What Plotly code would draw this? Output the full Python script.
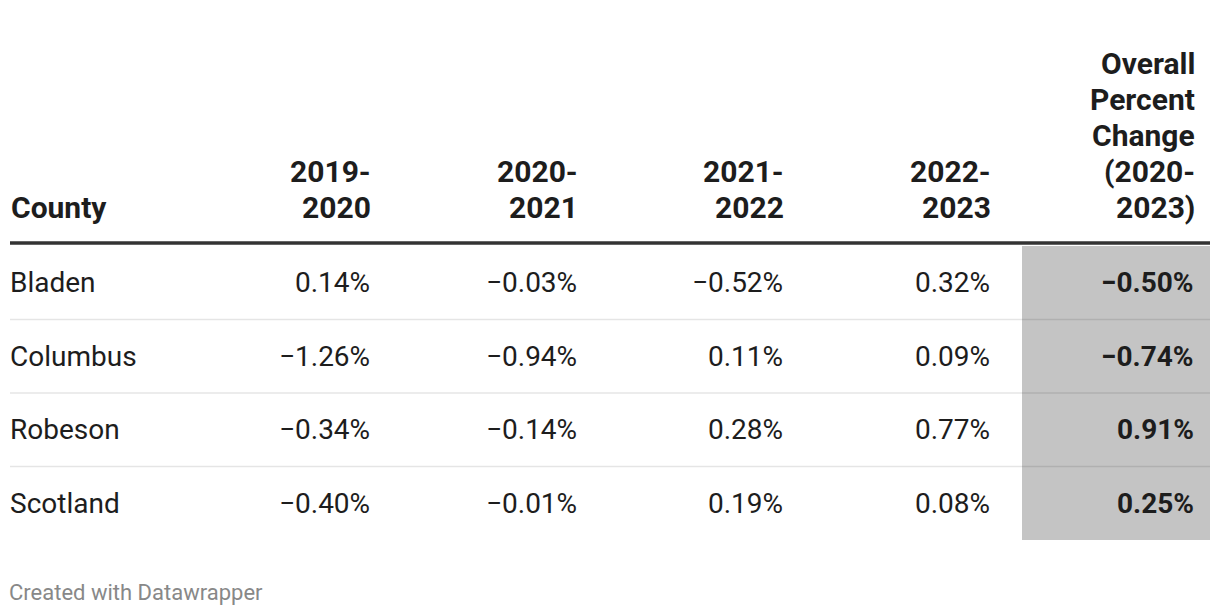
import plotly.graph_objects as go

# ---- data ----
counties = ["Bladen", "Columbus", "Robeson", "Scotland"]
col_headers = ["2019-<br>2020", "2020-<br>2021", "2021-<br>2022", "2022-<br>2023",
               "Overall<br>Percent<br>Change<br>(2020-<br>2023)"]
v_2019_2020 = [0.14, -1.26, -0.34, -0.40]
v_2020_2021 = [-0.03, -0.94, -0.14, -0.01]
v_2021_2022 = [-0.52, 0.11, 0.28, 0.19]
v_2022_2023 = [0.32, 0.09, 0.77, 0.08]
v_overall = [-0.50, -0.74, 0.91, 0.25]
footer = "Created with Datawrapper"

columns = [v_2019_2020, v_2020_2021, v_2021_2022, v_2022_2023, v_overall]

# ---- layout constants (pixels of the page) ----
W, H = 1220, 616
PAGE_MARGIN = 8  # default body margin of the html page
LEFT, RIGHT = 10, 1210
col_right = [373, 580, 786, 993, 1197]
body_shift = -1
header_last_line = 207.5
header_line_gap = 36
header_line_y = 243
row_top = 246
row_h = 73.5
n = len(counties)
FONT = "Roboto"
TXT = "#1d1d1d"
HEAD_SIZE = 30
BODY_SIZE = 28


def fmt(v):
    s = f"{abs(v):.2f}%"
    return ("\u2212" + s) if v < 0 else s


fig = go.Figure()
shapes = []
annotations = []

# highlighted last column
shapes.append(dict(type="rect", xref="x", yref="y", x0=1022, x1=RIGHT,
                   y0=row_top, y1=row_top + n * row_h,
                   fillcolor="#c4c4c4", line=dict(width=0), layer="below"))

# header line
shapes.append(dict(type="line", xref="x", yref="y", x0=LEFT, x1=RIGHT,
                   y0=header_line_y, y1=header_line_y,
                   line=dict(color="#333333", width=3.5)))

# row dividers
for i in range(1, n):
    y = row_top + i * row_h
    shapes.append(dict(type="line", xref="x", yref="y", x0=LEFT, x1=RIGHT,
                       y0=y, y1=y, line=dict(color="rgba(0,0,0,0.1)", width=1.5)))


def header_lines(x, text, anchor):
    lines = text.split("<br>")
    for k, ln in enumerate(reversed(lines)):
        annotations.append(dict(x=x, y=header_last_line - k * header_line_gap,
                                xref="x", yref="y", text=f"<b>{ln}</b>", showarrow=False,
                                xanchor=anchor, yanchor="middle",
                                font=dict(family=FONT, size=HEAD_SIZE, color=TXT)))


header_lines(LEFT - 1, "County", "left")
for j, h in enumerate(col_headers):
    header_lines(col_right[j], h, "right")

# body
for i, c in enumerate(counties):
    yc = row_top + (i + 0.5) * row_h
    annotations.append(dict(x=LEFT - 2, y=yc, xref="x", yref="y", text=c, showarrow=False,
                            xanchor="left", yanchor="middle",
                            font=dict(family=FONT, size=BODY_SIZE, color=TXT)))
    for j, col in enumerate(columns):
        t = fmt(col[i])
        if j == len(columns) - 1:
            t = f"<b>{t}</b>"
        annotations.append(dict(x=col_right[j] + body_shift, y=yc, xref="x", yref="y", text=t,
                                showarrow=False, xanchor="right", yanchor="middle",
                                font=dict(family=FONT, size=BODY_SIZE, color=TXT)))

# footer
annotations.append(dict(x=LEFT - 2, xshift=-1, y=592, xref="x", yref="y", text=footer,
                        showarrow=False, xanchor="left", yanchor="middle",
                        font=dict(family=FONT, size=22, color="#888888")))

FW, FH = W - PAGE_MARGIN, H - PAGE_MARGIN
fig.update_layout(
    width=FW, height=FH,
    margin=dict(l=0, r=0, t=0, b=0),
    paper_bgcolor="white", plot_bgcolor="white",
    xaxis=dict(range=[PAGE_MARGIN, PAGE_MARGIN + FW], visible=False, fixedrange=True),
    yaxis=dict(range=[PAGE_MARGIN + FH, PAGE_MARGIN], visible=False, fixedrange=True),
    shapes=shapes, annotations=annotations, showlegend=False,
)

fig.write_html("out.html")
